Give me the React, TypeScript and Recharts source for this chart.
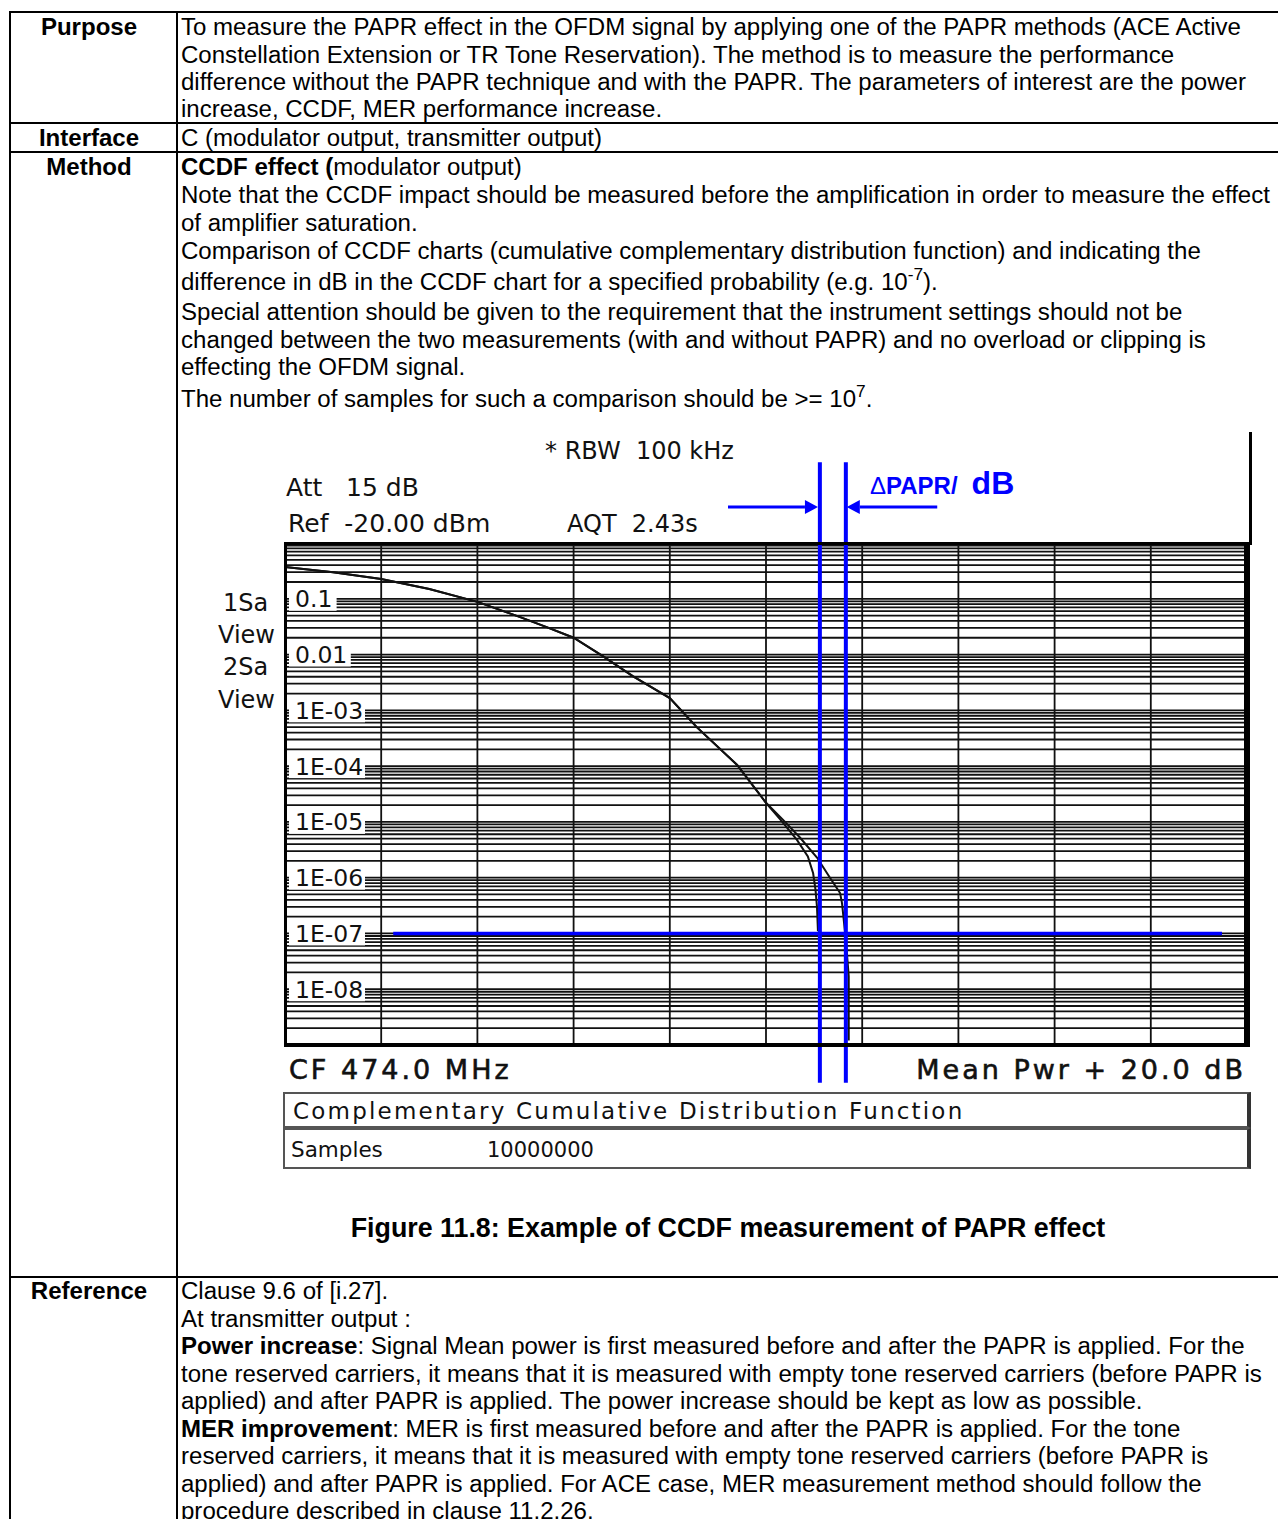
import React from 'react'
import { CartesianGrid, Line, LineChart, ReferenceDot, ReferenceLine, XAxis, YAxis } from 'recharts'

// x axis: power above mean, dB (0 .. 20, 2 dB / div)
const X_TICKS = [0, 2, 4, 6, 8, 10, 12, 14, 16, 18, 20]
// y axis: log probability, decades + minor lines 2..9
const DECADES = [1e-9, 1e-8, 1e-7, 1e-6, 1e-5, 1e-4, 1e-3, 1e-2, 1e-1]
const MINOR = [1, 2, 3, 4, 5, 6, 7, 8, 9]
const Y_LABEL_VALUES = [1e-1, 1e-2, 1e-3, 1e-4, 1e-5, 1e-6, 1e-7, 1e-8]
const Y_LABELS = ['0.1', '0.01', '1E-03', '1E-04', '1E-05', '1E-06', '1E-07', '1E-08']

// CCDF curves
const COMMON_DB = [0, 1, 2, 3, 4, 4.89, 5.44, 6, 6.6, 7.23, 8, 8.56, 9.4, 10]
const COMMON_P = [0.37, 0.3, 0.226, 0.15, 0.088, 0.047, 0.031, 0.02, 0.0095, 0.0041, 0.00166, 0.0005, 0.000105, 0.000022]
const WITH_DB = [10.3, 10.64, 10.87, 10.98, 11.03, 11.06, 11.08]
const WITH_P = [1.1e-5, 4.8e-6, 2.4e-6, 1.2e-6, 6e-7, 3e-7, 1.1e-7]
const WITHOUT_DB = [10.35, 10.71, 11.06, 11.33, 11.54, 11.58, 11.66, 11.72, 11.72]
const WITHOUT_P = [1.1e-5, 5.2e-6, 2.3e-6, 1.0e-6, 5.3e-7, 3.5e-7, 7.7e-8, 1.7e-8, 1.2e-9]

// annotation values
const PAPR_CROSS_DB = [11.12, 11.66]
const MARK_P = 1e-7
const MARK_LINE_DB = [2.25, 19.48]
const ARROW_P = 4.4
const ARROW_LEFT_DB = [9.21, 11.08]
const ARROW_RIGHT_DB = [13.56, 11.68]
const CROSS_TOP_P = 28
const CROSS_BOTTOM_P = 2.1e-10

const Y_GRID = DECADES.flatMap((d) => MINOR.map((k) => d * k)).concat([1])

const toPoints = (xs: number[], ps: number[]) => xs.map((db, i) => ({ db, p: ps[i] }))
const withData = toPoints(COMMON_DB.concat(WITH_DB), COMMON_P.concat(WITH_P))
const withoutData = toPoints(COMMON_DB.concat(WITHOUT_DB), COMMON_P.concat(WITHOUT_P))

const BLUE = '#0000ff'
const CHART = { left: 185, top: 430, width: 1070, height: 700 }
const MARGIN = { top: 113, left: 100, right: 8, bottom: 85 }

const DecadeLabel = ({ cx, cy, label }: any) => (
  <g>
    <rect x={cx + 4} y={cy - 12} width={label.length * 14.2 + 5} height={24} fill="#fff" />
    <text x={cx + 10} y={cy} dy="0.36em" fontFamily="DejaVu Sans" fontSize={23.5} fill="#111">
      {label}
    </text>
  </g>
)

const Arrow = (props: any) => {
  const { x1, y1, x2, y2 } = props
  const dir = Math.sign(x2 - x1)
  const head = 13
  return (
    <g>
      <line x1={x1} y1={y1} x2={x2 - dir * head} y2={y2} stroke={BLUE} strokeWidth={3} />
      <polygon points={`${x2},${y2} ${x2 - dir * head},${y2 - 7} ${x2 - dir * head},${y2 + 7}`} fill={BLUE} />
    </g>
  )
}

const CcdfChart = () => (
  <LineChart width={CHART.width} height={CHART.height} margin={MARGIN}>
    <CartesianGrid stroke="#111" strokeWidth={1.8} fill="#fff" />
    <XAxis type="number" dataKey="db" domain={[0, 20]} ticks={X_TICKS} interval={0} hide allowDataOverflow />
    <YAxis type="number" scale="log" domain={[1e-9, 1]} ticks={Y_GRID} interval={0} hide allowDataOverflow />
    {Y_LABEL_VALUES.map((v, i) => (
      <ReferenceDot
        key={v}
        x={0}
        y={v}
        ifOverflow="visible"
        shape={(p: any) => <DecadeLabel cx={p.cx} cy={p.cy} label={Y_LABELS[i]} />}
      />
    ))}
    <Line data={withData} dataKey="p" type="linear" stroke="#111" strokeWidth={2} dot={false} isAnimationActive={false} />
    <Line data={withoutData} dataKey="p" type="linear" stroke="#111" strokeWidth={2} dot={false} isAnimationActive={false} />
    <ReferenceLine
      segment={[{ x: MARK_LINE_DB[0], y: MARK_P }, { x: MARK_LINE_DB[1], y: MARK_P }]}
      stroke={BLUE}
      strokeWidth={3.5}
      ifOverflow="visible"
    />
    {PAPR_CROSS_DB.map((db) => (
      <ReferenceLine
        key={db}
        segment={[{ x: db, y: CROSS_TOP_P }, { x: db, y: CROSS_BOTTOM_P }]}
        stroke={BLUE}
        strokeWidth={4}
        ifOverflow="visible"
      />
    ))}
    <ReferenceLine
      segment={[{ x: ARROW_LEFT_DB[0], y: ARROW_P }, { x: ARROW_LEFT_DB[1], y: ARROW_P }]}
      ifOverflow="visible"
      shape={(p: any) => <Arrow {...p} />}
    />
    <ReferenceLine
      segment={[{ x: ARROW_RIGHT_DB[0], y: ARROW_P }, { x: ARROW_RIGHT_DB[1], y: ARROW_P }]}
      ifOverflow="visible"
      shape={(p: any) => <Arrow {...p} />}
    />
  </LineChart>
)

const docFont: React.CSSProperties = {
  position: 'absolute',
  fontFamily: '"Liberation Sans", Arial, sans-serif',
  fontSize: 24.05,
  lineHeight: '28px',
  whiteSpace: 'nowrap',
  color: '#000',
}
const instFont: React.CSSProperties = {
  position: 'absolute',
  fontFamily: '"DejaVu Sans", Verdana, sans-serif',
  fontSize: 24,
  lineHeight: '28px',
  whiteSpace: 'pre',
  color: '#111',
}

const Sup = ({ children }: { children: React.ReactNode }) => (
  <sup style={{ fontSize: '0.72em', lineHeight: 0, verticalAlign: '0.55em' }}>{children}</sup>
)

const TextLine = ({ y, children }: { y: number; children: React.ReactNode }) => (
  <div style={{ ...docFont, left: 181, top: y - 14 }}>{children}</div>
)
const RowLabel = ({ y, children }: { y: number; children: React.ReactNode }) => (
  <div style={{ ...docFont, left: 10, width: 158, textAlign: 'center', fontWeight: 'bold', top: y - 14 }}>{children}</div>
)
const Inst = ({ x, y, children, style }: { x: number; y: number; children: React.ReactNode; style?: React.CSSProperties }) => (
  <div style={{ ...instFont, left: x, top: y - 14, ...style }}>{children}</div>
)

const HLine = ({ y }: { y: number }) => (
  <div style={{ position: 'absolute', left: 9, top: y - 1, width: 1290, height: 2, background: '#000' }} />
)
const VLine = ({ x, y0, y1, w = 2 }: { x: number; y0: number; y1: number; w?: number }) => (
  <div style={{ position: 'absolute', left: x - w / 2, top: y0, width: w, height: y1 - y0, background: '#000' }} />
)

const boxStyle: React.CSSProperties = {
  position: 'absolute',
  left: 283,
  width: 968,
  boxSizing: 'border-box',
  border: '2px solid #555',
  borderRightWidth: 4,
  borderRightColor: '#333',
}

export default function App() {
  return (
    <div style={{ position: 'absolute', left: 0, top: 0, width: 1278, height: 1519, overflow: 'hidden', background: '#fff' }}>
      {/* table frame */}
      <HLine y={12} />
      <HLine y={123} />
      <HLine y={152} />
      <HLine y={1277} />
      <VLine x={10} y0={11} y1={1519} />
      <VLine x={177} y0={11} y1={1519} />

      <RowLabel y={27}>Purpose</RowLabel>
      <RowLabel y={138}>Interface</RowLabel>
      <RowLabel y={167}>Method</RowLabel>
      <RowLabel y={1291}>Reference</RowLabel>

      <TextLine y={27}>To measure the PAPR effect in the OFDM signal by applying one of the PAPR methods (ACE Active</TextLine>
      <TextLine y={55}>Constellation Extension or TR Tone Reservation). The method is to measure the performance</TextLine>
      <TextLine y={82}>difference without the PAPR technique and with the PAPR. The parameters of interest are the power</TextLine>
      <TextLine y={109}>increase, CCDF, MER performance increase.</TextLine>

      <TextLine y={138}>C (modulator output, transmitter output)</TextLine>

      <TextLine y={167}>
        <b>CCDF effect (</b>modulator output)
      </TextLine>
      <TextLine y={195}>Note that the CCDF impact should be measured before the amplification in order to measure the effect</TextLine>
      <TextLine y={223}>of amplifier saturation.</TextLine>
      <TextLine y={251}>Comparison of CCDF charts (cumulative complementary distribution function) and indicating the</TextLine>
      <TextLine y={282}>
        difference in dB in the CCDF chart for a specified probability (e.g. 10<Sup>-7</Sup>).
      </TextLine>
      <TextLine y={312}>Special attention should be given to the requirement that the instrument settings should not be</TextLine>
      <TextLine y={340}>changed between the two measurements (with and without PAPR) and no overload or clipping is</TextLine>
      <TextLine y={367}>effecting the OFDM signal.</TextLine>
      <TextLine y={399}>
        The number of samples for such a comparison should be &gt;= 10<Sup>7</Sup>.
      </TextLine>

      {/* analyzer screenshot */}
      <VLine x={1250} y0={432} y1={545} w={3} />
      <Inst x={545} y={451}>* RBW  100 kHz</Inst>
      <Inst x={286} y={488} style={{ fontSize: 25 }}>Att   15 dB</Inst>
      <Inst x={288} y={524} style={{ fontSize: 25 }}>Ref  -20.00 dBm</Inst>
      <Inst x={567} y={524}>AQT  2.43s</Inst>
      <Inst x={223} y={603}>1Sa</Inst>
      <Inst x={218} y={635}>View</Inst>
      <Inst x={223} y={667}>2Sa</Inst>
      <Inst x={218} y={700}>View</Inst>

      <div style={{ position: 'absolute', left: CHART.left, top: CHART.top, width: CHART.width, height: CHART.height }}>
        <CcdfChart />
      </div>

      <div
        style={{
          position: 'absolute',
          left: 284,
          top: 542,
          width: 966,
          height: 505,
          boxSizing: 'border-box',
          borderStyle: 'solid',
          borderColor: '#000',
          borderWidth: '3px 6px 4px 3px',
          pointerEvents: 'none',
        }}
      />

      <div
        style={{
          position: 'absolute',
          left: 870,
          top: 465,
          whiteSpace: 'nowrap',
          color: BLUE,
          fontFamily: '"Liberation Sans", Arial, sans-serif',
          fontWeight: 'bold',
          lineHeight: '36px',
        }}
      >
        <span style={{ fontSize: 24, fontWeight: 'normal' }}>Δ</span>
        <span style={{ fontSize: 24 }}>PAPR/</span>
        <span style={{ fontSize: 32, marginLeft: 14 }}>dB</span>
      </div>

      <Inst x={289} y={1070} style={{ fontSize: 27, letterSpacing: 3, WebkitTextStroke: '0.6px #111' }}>
        CF 474.0 MHz
      </Inst>
      <Inst x={0} y={1070} style={{ left: 'auto', right: 1278 - 1246, fontSize: 27, letterSpacing: 3, WebkitTextStroke: '0.6px #111' }}>
        Mean Pwr + 20.0 dB
      </Inst>

      <div style={{ ...boxStyle, top: 1092, height: 36 }} />
      <div style={{ ...boxStyle, top: 1128, height: 41 }} />
      <Inst x={293} y={1111} style={{ fontSize: 23, letterSpacing: 2.2 }}>
        Complementary Cumulative Distribution Function
      </Inst>
      <Inst x={291} y={1150} style={{ fontSize: 21.5 }}>Samples</Inst>
      <Inst x={487} y={1150} style={{ fontSize: 21 }}>10000000</Inst>

      <div style={{ ...docFont, left: 177, width: 1102, textAlign: 'center', fontWeight: 'bold', fontSize: 26.8, top: 1229 - 15 }}>
        Figure 11.8: Example of CCDF measurement of PAPR effect
      </div>

      <TextLine y={1291}>Clause 9.6 of [i.27].</TextLine>
      <TextLine y={1319}>At transmitter output :</TextLine>
      <TextLine y={1346}>
        <b>Power increase</b>: Signal Mean power is first measured before and after the PAPR is applied. For the
      </TextLine>
      <TextLine y={1374}>tone reserved carriers, it means that it is measured with empty tone reserved carriers (before PAPR is</TextLine>
      <TextLine y={1401}>applied) and after PAPR is applied. The power increase should be kept as low as possible.</TextLine>
      <TextLine y={1429}>
        <b>MER improvement</b>: MER is first measured before and after the PAPR is applied. For the tone
      </TextLine>
      <TextLine y={1456}>reserved carriers, it means that it is measured with empty tone reserved carriers (before PAPR is</TextLine>
      <TextLine y={1484}>applied) and after PAPR is applied. For ACE case, MER measurement method should follow the</TextLine>
      <TextLine y={1511}>procedure described in clause 11.2.26.</TextLine>
    </div>
  )
}
